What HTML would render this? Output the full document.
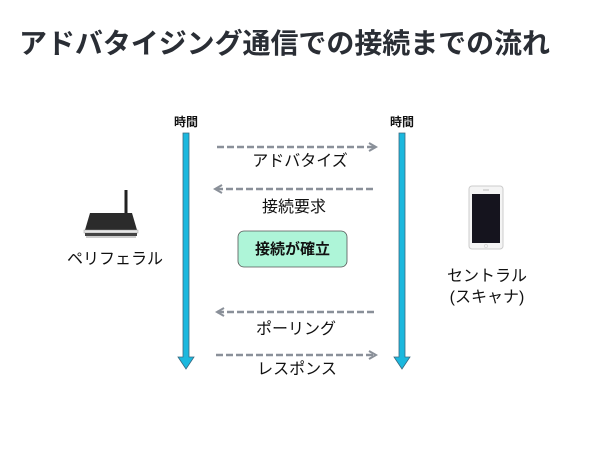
<!DOCTYPE html>
<html><head><meta charset="utf-8"><style>
body{margin:0;width:600px;height:450px;background:#fff;overflow:hidden;font-family:"Liberation Sans","Noto Sans CJK JP",sans-serif;}
</style></head><body>
<svg width="600" height="450" xmlns="http://www.w3.org/2000/svg" style="position:absolute;left:0;top:0">
<defs>
<marker id="ah" markerWidth="10" markerHeight="10" refX="8" refY="5" orient="auto" markerUnits="userSpaceOnUse">
<path d="M1,1 L8,5 L1,9" fill="none" stroke="#8a9099" stroke-width="2"/>
</marker>
</defs>
<text x="19" y="53" font-size="28" font-weight="bold" fill="#2a2e35" textLength="531" font-family="Liberation Sans, Noto Sans CJK JP, sans-serif">アドバタイジング通信での接続までの流れ</text>
<g font-family="Liberation Sans, Noto Sans CJK JP, sans-serif" fill="#111">
<text x="186" y="126" font-size="12" font-weight="bold" text-anchor="middle">時間</text>
<text x="402" y="126" font-size="12" font-weight="bold" text-anchor="middle">時間</text>
</g>
<g fill="#1bb8de" stroke="#3a6a80" stroke-width="0.8">
<path d="M183,133 H189 V357 H194 L186,369 L178,357 H183 Z"/>
<path d="M399,133 H405 V357 H410 L402,369 L394,357 H399 Z"/>
</g>
<g stroke="#8a9099" stroke-width="2.5" stroke-dasharray="7,3" fill="none">
<line x1="217" y1="147" x2="376" y2="147" marker-end="url(#ah)"/>
<line x1="373" y1="189" x2="215" y2="189" marker-end="url(#ah)"/>
<line x1="374" y1="312" x2="217" y2="312" marker-end="url(#ah)"/>
<line x1="216" y1="355" x2="376" y2="355" marker-end="url(#ah)"/>
</g>
<g font-family="Liberation Sans, Noto Sans CJK JP, sans-serif" fill="#111" font-size="16" text-anchor="middle">
<text x="300" y="166">アドバタイズ</text>
<text x="294" y="212">接続要求</text>
<text x="296" y="334">ポーリング</text>
<text x="297" y="374">レスポンス</text>
<text x="115" y="264">ペリフェラル</text>
<text x="487" y="281">セントラル</text>
<text x="487" y="302">(スキャナ)</text>
</g>
<rect x="238" y="231" width="109" height="36" rx="6" fill="#aef5d8" stroke="#555" stroke-width="0.8"/>
<text x="292.5" y="254" font-size="15" font-weight="bold" text-anchor="middle" fill="#111" font-family="Liberation Sans, Noto Sans CJK JP, sans-serif">接続が確立</text>
<rect x="124.5" y="190" width="3" height="25" fill="#222"/>
<path d="M90,213 H132 L137,230 H85 Z" fill="#2b2b2b"/>
<rect x="84" y="230" width="54" height="3" fill="#e8e8e8" stroke="#999" stroke-width="0.5"/>
<rect x="85" y="233" width="52" height="3" fill="#444"/>
<rect x="86" y="236" width="50" height="2" fill="#ccc"/>
<rect x="469" y="186" width="34" height="63" rx="3" fill="#f4f4f4" stroke="#ccc" stroke-width="1"/>
<rect x="472" y="194" width="28" height="49" fill="#15141e"/>
<circle cx="486" cy="246" r="1.6" fill="none" stroke="#ccc" stroke-width="0.6"/>
<rect x="483" y="189.5" width="6" height="1" fill="#bbb"/>
</svg>
</body></html>
